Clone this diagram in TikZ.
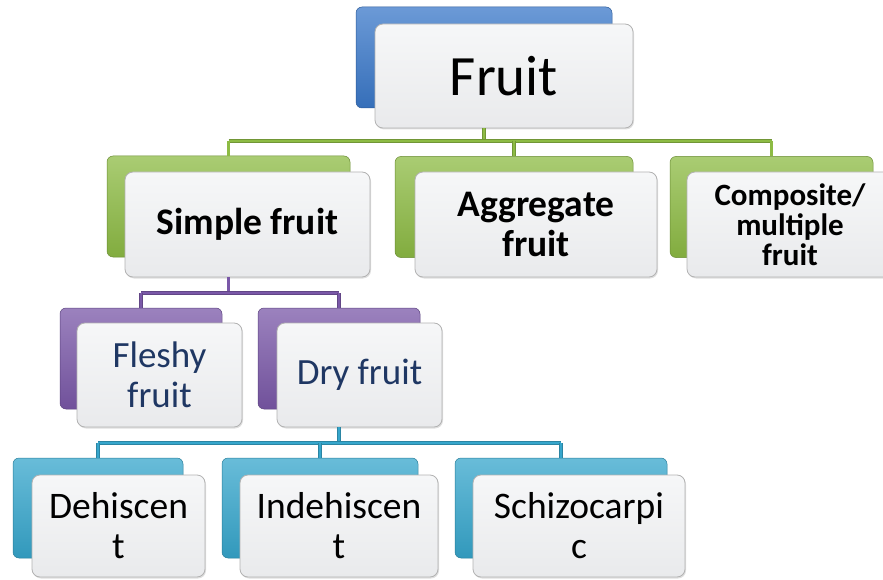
\documentclass[tikz,border=0pt]{standalone}
\usepackage{fontspec}
\setmainfont{Carlito}
\usepackage{tikz}
\usetikzlibrary{shadows}
\definecolor{fruitblue}{HTML}{3A78C9}
\definecolor{leafgreen}{HTML}{8DBB44}
\definecolor{plum}{HTML}{7A58A8}
\definecolor{seablue}{HTML}{36A6CC}
\definecolor{boxtop}{HTML}{F6F7F8}
\definecolor{boxbottom}{HTML}{E9EAEC}
\definecolor{inknavy}{HTML}{1F3763}

\begin{document}
\begin{tikzpicture}[x=1pt, y=-1pt,
    backbox/.style={draw=#1!75!black, line width=0.5pt, rounded corners=6pt,
      top color=#1!75!white, bottom color=#1!92!black, minimum height=101pt, inner sep=0pt},
    frontbox/.style={draw=gray!60, line width=0.8pt, rounded corners=8pt,
      top color=boxtop, bottom color=boxbottom, minimum height=104pt, inner sep=0pt,
      align=center, drop shadow={opacity=0.25, shadow xshift=1pt, shadow yshift=-1.5pt}},
    branch/.style={draw=#1!80!black, double=#1, double distance=2.2pt, line width=0.7pt},
    rootfont/.style={font=\fontsize{57}{62}\selectfont},
    kindfont/.style={font=\bfseries\fontsize{37.5}{40}\selectfont},
    smallkindfont/.style={font=\bfseries\fontsize{31}{30}\selectfont},
    subfont/.style={font=\fontsize{37}{40}\selectfont, text=inknavy},
    leaffont/.style={font=\fontsize{37.5}{40}\selectfont}]
  \useasboundingbox (0,0) rectangle (883,580);

  % root
  \node[backbox=fruitblue, minimum width=256pt] (fruit-back) at (484,57.5) {};
  \node[frontbox, rootfont, minimum width=258pt] (fruit) at (504,76) {Fruit};

  % kinds of fruit
  \node[backbox=leafgreen, minimum width=243pt] (simple-back) at (228.5,206.5) {};
  \node[frontbox, kindfont, minimum width=245pt, minimum height=105pt] (simple) at (247.5,224.5) {Simple fruit};
  \node[backbox=leafgreen, minimum width=238pt] (aggregate-back) at (514,207) {};
  \node[frontbox, kindfont, minimum width=242pt, minimum height=105pt] (aggregate) at (536,224.5) {Aggregate\\fruit};
  \node[backbox=leafgreen, minimum width=203pt] (composite-back) at (771.5,207) {};
  \node[frontbox, smallkindfont, minimum width=206pt, minimum height=105pt] (composite) at (790,224.5) {Composite/\\multiple\\fruit};

  % simple fruit
  \node[backbox=plum, minimum width=162pt] (fleshy-back) at (141,358.5) {};
  \node[frontbox, subfont, minimum width=165pt] (fleshy) at (159.5,375) {Fleshy\\fruit};
  \node[backbox=plum, minimum width=162pt] (dry-back) at (339,358.5) {};
  \node[frontbox, subfont, minimum width=165pt] (dry) at (359.5,375) {Dry fruit};

  % dry fruit
  \node[backbox=seablue, minimum width=170pt, minimum height=100pt] (dehiscent-back) at (98,508) {};
  \node[frontbox, leaffont, minimum width=173pt, minimum height=102pt] (dehiscent) at (118.5,526) {Dehiscen\\t};
  \node[backbox=seablue, minimum width=196pt, minimum height=100pt] (indehiscent-back) at (320,508) {};
  \node[frontbox, leaffont, minimum width=198pt, minimum height=102pt] (indehiscent) at (339,526) {Indehiscen\\t};
  \node[backbox=seablue, minimum width=212pt, minimum height=100pt] (schizo-back) at (561,508) {};
  \node[frontbox, leaffont, minimum width=212pt, minimum height=102pt] (schizo) at (579,526) {Schizocarpi\\c};

  % connectors
  \coordinate (bus-kind) at (0,141);
  \coordinate (bus-simple) at (0,293);
  \coordinate (bus-dry) at (0,443);
  \draw[branch=leafgreen] (fruit-back |- fruit.south) -- (fruit-back |- bus-kind);
  \draw[branch=leafgreen] (simple-back |- bus-kind) -- (composite-back |- bus-kind);
  \foreach \n in {simple, aggregate, composite}
    \draw[branch=leafgreen] (\n-back |- bus-kind) -- (\n-back.north);
  \draw[branch=plum] (simple-back |- simple.south) -- (simple-back |- bus-simple);
  \draw[branch=plum] (fleshy-back |- bus-simple) -- (dry-back |- bus-simple);
  \foreach \n in {fleshy, dry}
    \draw[branch=plum] (\n-back |- bus-simple) -- (\n-back.north);
  \draw[branch=seablue] (dry-back |- dry.south) -- (dry-back |- bus-dry);
  \draw[branch=seablue] (dehiscent-back |- bus-dry) -- (schizo-back |- bus-dry);
  \foreach \n in {dehiscent, indehiscent, schizo}
    \draw[branch=seablue] (\n-back |- bus-dry) -- (\n-back.north);
\end{tikzpicture}
\end{document}
